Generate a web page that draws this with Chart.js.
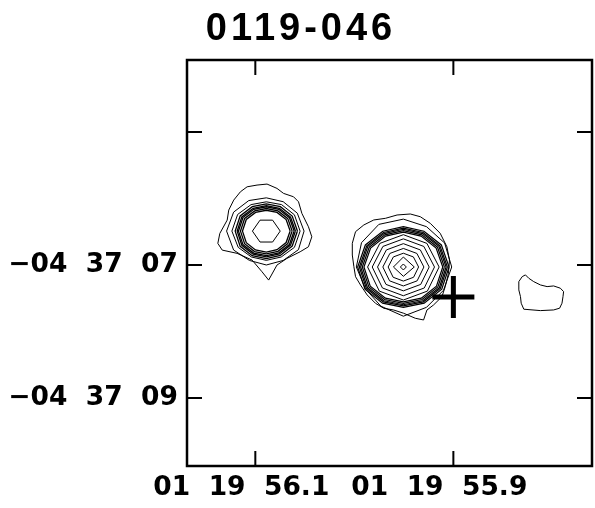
<!DOCTYPE html>
<html>
<head>
<meta charset="utf-8">
<script src="https://cdn.jsdelivr.net/npm/chart.js@4/dist/chart.umd.min.js"></script>
<style>
  html, body { margin: 0; padding: 0; background: #fff; }
</style>
</head>
<body>
<canvas id="c" width="595" height="508"></canvas>
<script>
// Field 0119-046: contour map in RA (seconds of 01h19m) and Dec (arcsec of -04d37m)
const DEC_DEG = -4.62;

// Axis ticks; labels use figure spaces so every character sits on the same pitch
const xTickValues = [56.1, 55.9];
const xTickLabels = ['01\u200719\u200756.1', '01\u200719\u200755.9'];
const yTickValues = [5, 7, 9];
const yTickLabels = ['', '\u221204\u200737\u200707', '\u221204\u200737\u200709'];

// Source centres
const srcA = { ra: 56.0889, dec: 6.49 };
const srcB = { ra: 55.9505, dec: 7.03 };
const srcC = { ra: 55.8111, dec: 7.42 };

// Optical position marker
const markerPos = [{ x: 55.9, y: 7.48 }];

// Contour radii (arcsec), equally spaced in angle, starting west and turning north
const coreA = [0.21, 0.19, 0.19, 0.21, 0.19, 0.19];
const shapeA = [1.00, 0.96, 0.90, 0.87, 0.90, 0.97, 1.00, 0.97, 0.91, 0.88, 0.90, 0.96];
const ringsA = [0.36, 0.39, 0.42, 0.44, 0.47];
const midA1 = [0.51, 0.49, 0.46, 0.44, 0.46, 0.50, 0.52, 0.49, 0.45, 0.44, 0.45, 0.49];
const midA2 = [0.57, 0.54, 0.51, 0.50, 0.53, 0.57, 0.60, 0.57, 0.51, 0.51, 0.51, 0.56];
// Outermost contour of source A: (dx west, dy north) in arcsec
const outerA = [
  [-0.391, 0.591], [-0.290, 0.666], [-0.140, 0.692], [0.011, 0.707], [0.161, 0.642],
  [0.260, 0.567], [0.411, 0.516], [0.486, 0.441], [0.537, 0.266], [0.636, 0.065],
  [0.687, -0.086], [0.636, -0.236], [0.511, -0.311], [0.311, -0.411], [0.161, -0.511],
  [0.035, -0.737], [-0.065, -0.612], [-0.215, -0.436], [-0.441, -0.335], [-0.666, -0.286],
  [-0.732, -0.185], [-0.702, -0.035], [-0.591, 0.165], [-0.567, 0.316], [-0.492, 0.466]
];

const peakB = [0.045, 0.045, 0.045, 0.045];
const coreB = [0.165, 0.15, 0.15, 0.14];
const shapeB = [1.00, 0.93, 0.90, 0.93, 1.00, 0.95, 0.92, 0.95];
const levelsB = [0.23, 0.31, 0.39, 0.47, 0.54];
const ringShapeB = [1.00, 0.96, 0.90, 0.88, 0.90, 0.96, 1.00, 0.97, 0.91, 0.88, 0.91, 0.97];
const ringsB = [0.595, 0.62, 0.645, 0.665, 0.69];
const midB = [0.73, 0.72, 0.70, 0.72, 0.74, 0.73, 0.71, 0.66, 0.68, 0.74, 0.70, 0.70];
const outerB = [
  [-0.722, 0.531], [-0.597, 0.632], [-0.447, 0.707], [-0.271, 0.732], [-0.095, 0.782],
  [0.105, 0.797], [0.256, 0.756], [0.406, 0.657], [0.556, 0.507], [0.657, 0.305],
  [0.696, 0.105], [0.681, -0.095], [0.632, -0.296], [0.582, -0.447], [0.456, -0.571],
  [0.356, -0.647], [0.305, -0.797], [0.180, -0.771], [0.005, -0.696], [-0.146, -0.647],
  [-0.296, -0.621], [-0.421, -0.546], [-0.546, -0.421], [-0.647, -0.271], [-0.722, -0.146],
  [-0.747, 0.005], [-0.771, 0.180], [-0.771, 0.356]
];

const outerC = [
  [-0.341, 0.170], [-0.290, 0.245], [-0.241, 0.271], [-0.191, 0.221], [-0.116, 0.170],
  [-0.015, 0.120], [0.086, 0.095], [0.185, 0.105], [0.286, 0.071], [0.335, 0.020],
  [0.326, -0.056], [0.311, -0.155], [0.275, -0.230], [0.185, -0.256], [-0.015, -0.266],
  [-0.266, -0.245], [-0.305, -0.155], [-0.316, -0.056], [-0.341, 0.045]
];

const COS_DEC = Math.cos(DEC_DEG * Math.PI / 180);
// offset (west, north) in arcsec -> (RA s, Dec arcsec below -04 37)
function toSky(src, dx, dy) {
  return { x: src.ra - dx / (15 * COS_DEC), y: src.dec - dy };
}
function ring(src, radii, scale) {
  const n = radii.length, pts = [];
  for (let i = 0; i <= n; i++) {
    const k = i % n, a = 2 * Math.PI * k / n, r = radii[k] * (scale || 1);
    pts.push(toSky(src, r * Math.cos(a), r * Math.sin(a)));
  }
  return pts;
}
function poly(src, verts) {
  const pts = verts.map(v => toSky(src, v[0], v[1]));
  pts.push(pts[0]);
  return pts;
}
function contour(data, width) {
  return { data, showLine: true, borderColor: '#000', borderWidth: width || 1,
           pointRadius: 0, tension: 0, fill: false };
}

const datasets = [];
datasets.push(contour(ring(srcA, coreA)));
ringsA.forEach(r => datasets.push(contour(ring(srcA, shapeA, r), 1.3)));
datasets.push(contour(ring(srcA, midA1)));
datasets.push(contour(ring(srcA, midA2)));
datasets.push(contour(poly(srcA, outerA)));

datasets.push(contour(ring(srcB, peakB)));
datasets.push(contour(ring(srcB, coreB)));
levelsB.forEach(r => datasets.push(contour(ring(srcB, shapeB, r))));
ringsB.forEach(r => datasets.push(contour(ring(srcB, ringShapeB, r), 1.2)));
datasets.push(contour(ring(srcB, midB)));
datasets.push(contour(poly(srcB, outerB)));

datasets.push(contour(poly(srcC, outerC)));

datasets.push({
  data: markerPos, showLine: false, pointStyle: 'cross', pointRadius: 21,
  borderColor: '#000', backgroundColor: '#000', borderWidth: 5
});

const TICK_LEN = 15;
const framePlugin = {
  id: 'frame',
  beforeDraw(chart) {
    const ctx = chart.ctx;
    ctx.save();
    ctx.fillStyle = '#fff';
    ctx.fillRect(0, 0, chart.width, chart.height);
    ctx.restore();
    // the title is set with wider tracking than the tick labels
    const tb = chart.titleBlock;
    if (tb && !tb._tracked) {
      const draw = tb.draw.bind(tb);
      tb.draw = function () {
        const prev = ctx.letterSpacing;
        ctx.letterSpacing = '4px';
        draw();
        ctx.letterSpacing = prev;
      };
      tb._tracked = true;
    }
  },
  afterDraw(chart) {
    const ctx = chart.ctx, a = chart.chartArea;
    const xs = chart.scales.x, ys = chart.scales.y;
    ctx.save();
    ctx.strokeStyle = '#000';
    ctx.lineWidth = 2.5;
    ctx.strokeRect(a.left, a.top, a.right - a.left, a.bottom - a.top);
    ctx.lineWidth = 2;
    ctx.beginPath();
    xs.ticks.forEach(t => {
      const px = xs.getPixelForValue(t.value);
      ctx.moveTo(px, a.bottom); ctx.lineTo(px, a.bottom - TICK_LEN);
      ctx.moveTo(px, a.top); ctx.lineTo(px, a.top + TICK_LEN);
    });
    ys.ticks.forEach(t => {
      const py = ys.getPixelForValue(t.value);
      ctx.moveTo(a.left, py); ctx.lineTo(a.left + TICK_LEN, py);
      ctx.moveTo(a.right, py); ctx.lineTo(a.right - TICK_LEN, py);
    });
    ctx.stroke();
    ctx.restore();
  }
};

const tickFont = { family: "'DejaVu Sans', sans-serif", weight: 'bold', size: 26.5 };

function noPad(s) { s.paddingLeft = 0; s.paddingRight = 0; s.paddingTop = 0; s.paddingBottom = 0; }

new Chart(document.getElementById('c'), {
  type: 'scatter',
  data: { datasets },
  options: {
    responsive: false,
    devicePixelRatio: 1,
    animation: false,
    layout: { autoPadding: false, padding: { left: 10, right: 3, top: 0, bottom: 0 } },
    plugins: {
      legend: { display: false },
      tooltip: { enabled: false },
      title: {
        display: true,
        text: '0119-046',
        color: '#000',
        font: { family: "'Liberation Sans', Arial, sans-serif", weight: 'bold', size: 38, lineHeight: 1 },
        padding: { top: 11, bottom: 11 }
      }
    },
    scales: {
      x: {
        type: 'linear', position: 'bottom', reverse: true,
        min: 55.76, max: 56.169,
        grid: { display: false, drawTicks: false },
        border: { display: false },
        afterBuildTicks: s => { s.ticks = xTickValues.map(v => ({ value: v })); },
        afterFit: s => { s.height = 42; noPad(s); },
        ticks: {
          autoSkip: false, maxRotation: 0, color: '#000', font: tickFont,
          padding: 6, labelOffset: -14,
          callback: (v, i) => xTickLabels[i]
        }
      },
      y: {
        type: 'linear', position: 'left', reverse: true,
        min: 3.917, max: 10.023,
        grid: { display: false, drawTicks: false },
        border: { display: false },
        afterBuildTicks: s => { s.ticks = yTickValues.map(v => ({ value: v })); },
        afterFit: s => { s.width = 177; noPad(s); },
        ticks: {
          autoSkip: false, color: '#000', font: tickFont, padding: 9,
          callback: (v, i) => yTickLabels[i]
        }
      }
    }
  },
  plugins: [framePlugin]
});
</script>
</body>
</html>
